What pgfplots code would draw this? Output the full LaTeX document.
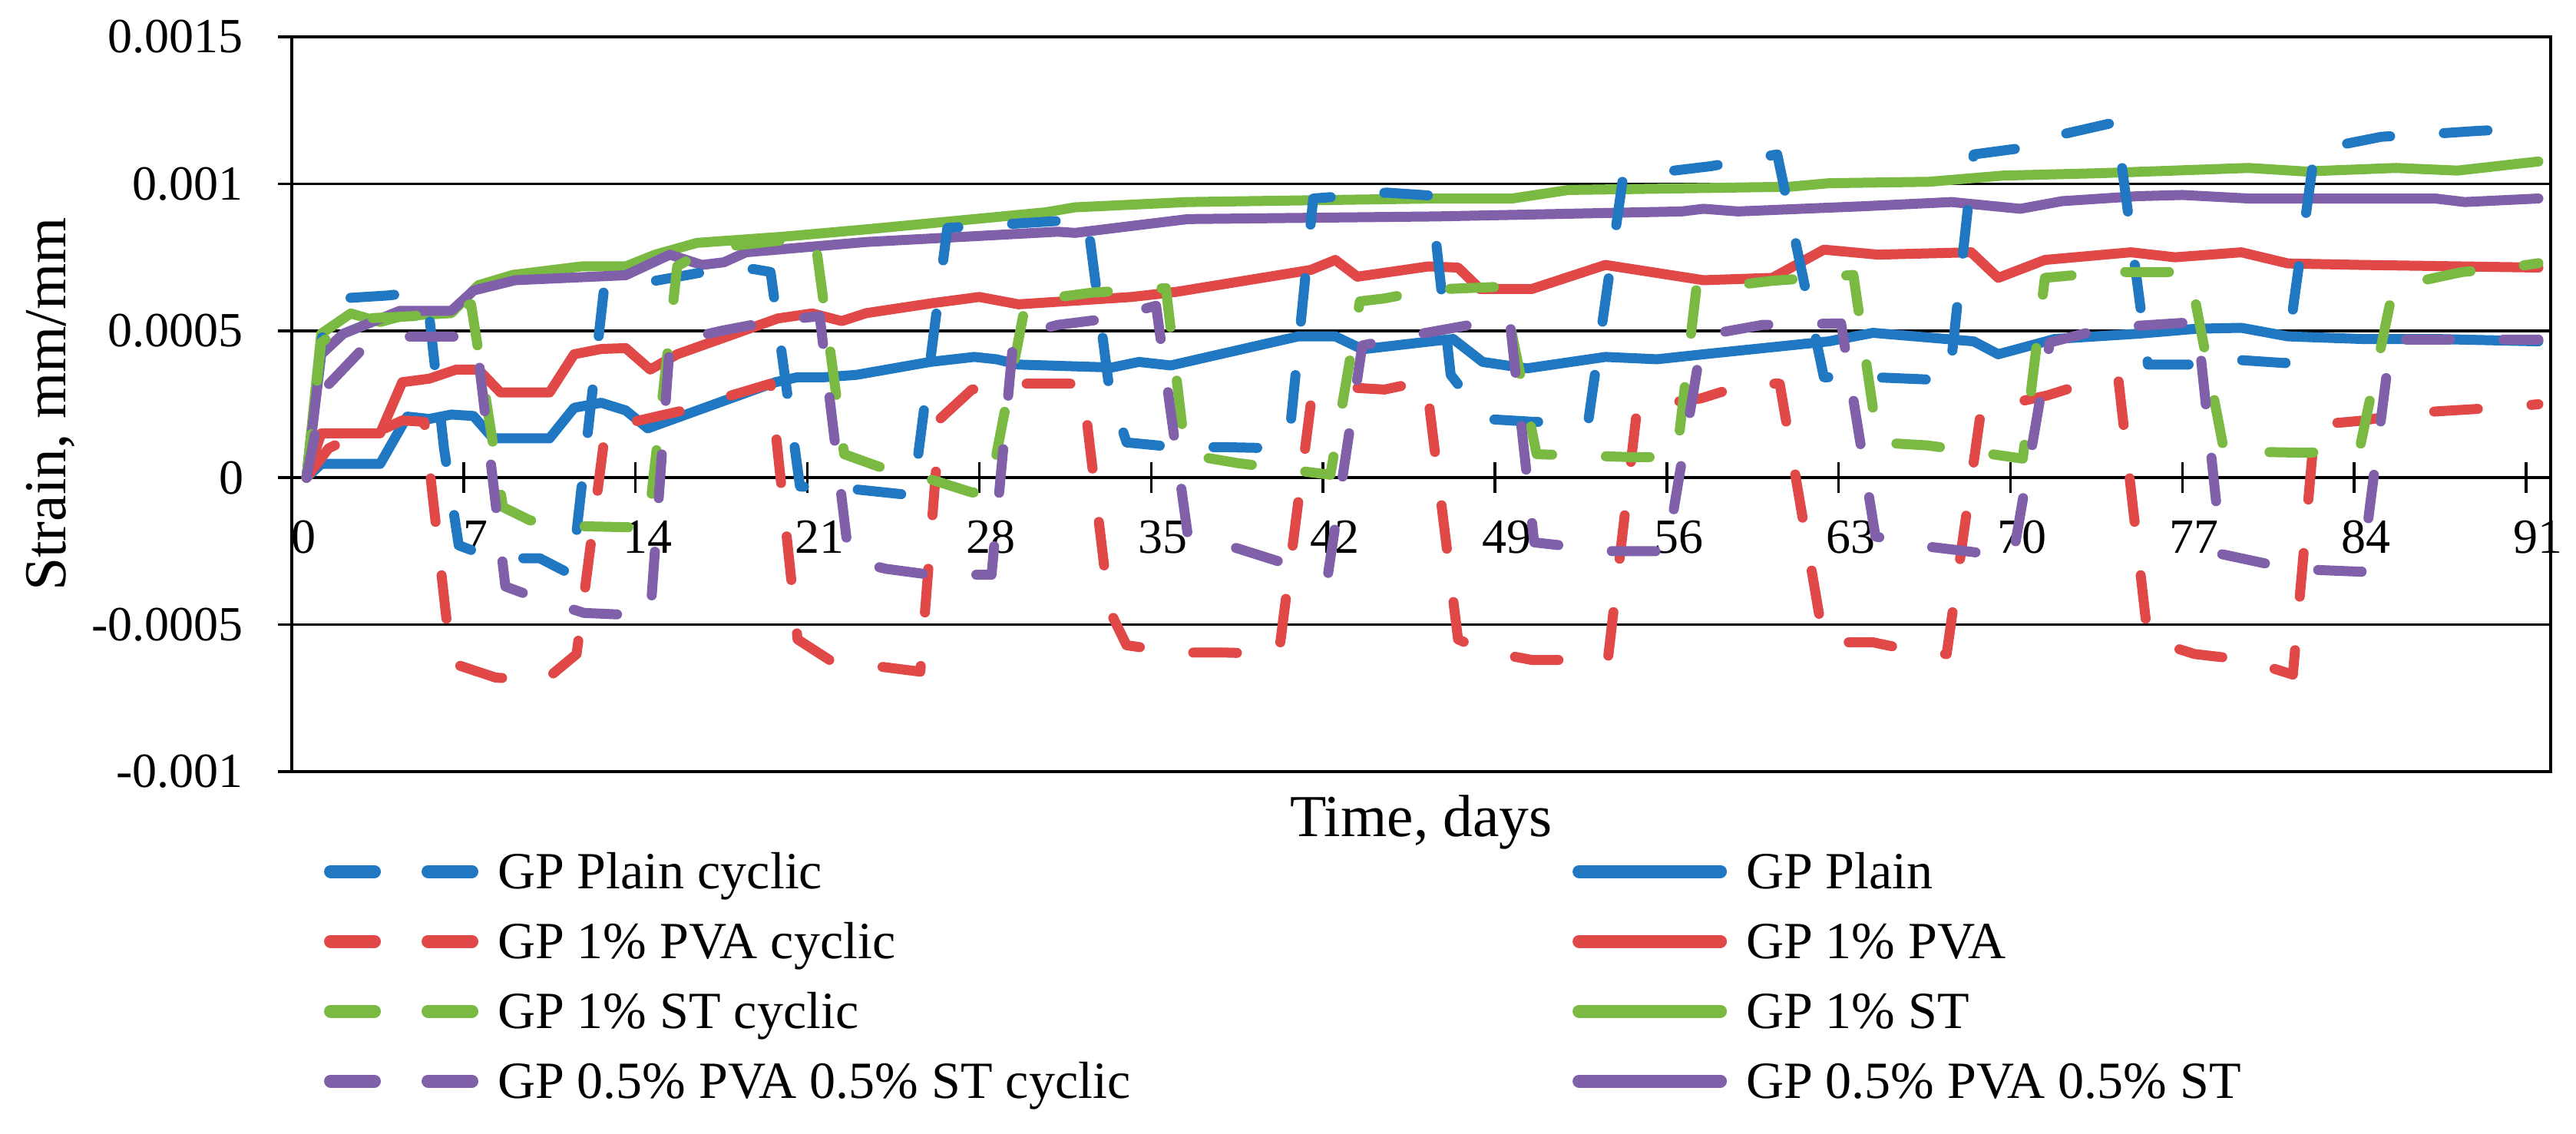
\documentclass[border=0pt]{standalone}
\usepackage{fontspec}
\setmainfont{Liberation Serif}
\usepackage{pgfplots}
\pgfplotsset{compat=1.18}
\definecolor{cblue}{RGB}{32,120,195}
\definecolor{cred}{RGB}{225,72,72}
\definecolor{cgreen}{RGB}{122,185,66}
\definecolor{cpurple}{RGB}{128,96,168}
\pgfplotsset{
  common/.style={
    scale only axis, width=588.4pt, height=191.4pt,
    at={(76pt,94.2pt)}, anchor=south west,
    xmin=0, xmax=92, ymin=-0.001, ymax=0.0015,
    enlargelimits=false, scaled ticks=false,
    /pgf/number format/assume math mode=true,
    legend cell align=left,
    legend style={draw=none, fill=none, inner sep=0pt, outer sep=0pt, row sep=9.2pt,
      font=\fontsize{13.6}{16}\selectfont,
      nodes={inner sep=0pt, text height=9pt, text depth=0pt},
      /tikz/every odd column/.style={column sep=5pt}},
    legend image code/.code={\draw[##1, line width=3.4pt] (0pt,0pt) -- (36.8pt,0pt);},
  },
  sol/.style={line width=2.6pt, line cap=round, line join=round},
  cyc/.style={line width=2.6pt, line cap=round, line join=round, dash pattern=on 11.4pt off 14pt},
}
\begin{document}
\begin{tikzpicture}
\path[use as bounding box] (0,0) rectangle (671pt,295.2pt);
% ---------- axis A: frame, y axis, grid, continuous series ----------
\begin{axis}[common,
  xtick=\empty,
  ytick={-0.001,-0.0005,0,0.0005,0.001,0.0015},
  yticklabels={-0.001,-0.0005,0,0.0005,0.001,0.0015},
  ytick pos=left, tick align=outside, major tick length=3.6pt,
  ymajorgrids, major grid style={black, line width=0.7pt},
  axis line style={black, line width=0.7pt},
  tick style={black, line width=0.7pt},
  yticklabel style={anchor=east, inner sep=0pt, font=\fontsize{12.8}{14}\selectfont},
  yticklabel shift=8.8pt,
  ylabel={Strain, mm/mm}, xlabel={Time, days},
  every axis y label/.style={at={([xshift=-58.8pt]axis description cs:0,0.5)}, rotate=90, anchor=base, inner sep=0pt, font=\fontsize{15.5}{18}\selectfont},
  every axis x label/.style={at={([yshift=-16.8pt]axis description cs:0.5,0)}, anchor=base, inner sep=0pt, font=\fontsize{15.5}{18}\selectfont},
  legend style={at={(0.5670,-0.1123)}, anchor=north west},
]
\addplot[sol, cblue] coordinates {(0.6,0)(1.2,0.47e-4)(3.6,0.47e-4)(4.7,2.08e-4)(5.6,2.0e-4)(6.5,2.15e-4)(7.4,2.1e-4)(8.2,1.34e-4)(10.5,1.34e-4)(11.5,2.38e-4)(12.6,2.55e-4)(13.6,2.29e-4)(14.5,1.68e-4)(19.7,3.25e-4)(20.6,3.42e-4)(21.7,3.42e-4)(23,3.5e-4)(26,3.94e-4)(27.8,4.11e-4)(28.7,4.03e-4)(29.6,3.85e-4)(33.4,3.75e-4)(34.5,3.94e-4)(35.8,3.82e-4)(41,4.81e-4)(42.5,4.81e-4)(43.6,4.37e-4)(46.5,4.65e-4)(47.3,4.72e-4)(48.5,3.94e-4)(50.3,3.72e-4)(53.5,4.11e-4)(55.6,4.03e-4)(57.5,4.2e-4)(62.6,4.64e-4)(64.4,4.93e-4)(68.5,4.64e-4)(69.5,4.2e-4)(71.8,4.72e-4)(75.2,4.9e-4)(77.6,5.07e-4)(79.4,5.1e-4)(81.3,4.81e-4)(84.3,4.72e-4)(87.3,4.72e-4)(91.5,4.64e-4)};
\addlegendentry{GP Plain}
\addplot[sol, cred] coordinates {(0.6,0)(1.2,1.51e-4)(3.6,1.51e-4)(4.5,3.25e-4)(5.6,3.37e-4)(6.7,3.68e-4)(7.6,3.68e-4)(8.5,2.9e-4)(10.5,2.9e-4)(11.5,4.2e-4)(12.6,4.38e-4)(13.6,4.41e-4)(14.6,3.68e-4)(15.7,4.2e-4)(19.8,5.42e-4)(21.2,5.59e-4)(22.4,5.33e-4)(23.4,5.6e-4)(26.1,5.94e-4)(28,6.15e-4)(29.6,5.9e-4)(34.2,6.15e-4)(36,6.32e-4)(41.5,7.07e-4)(42.5,7.41e-4)(43.4,6.84e-4)(46.3,7.19e-4)(47.5,7.15e-4)(48.4,6.42e-4)(50.5,6.42e-4)(53.5,7.24e-4)(57.5,6.72e-4)(60.3,6.8e-4)(62.4,7.76e-4)(64.6,7.59e-4)(68.4,7.67e-4)(69.5,6.8e-4)(71.4,7.41e-4)(74.9,7.67e-4)(76.7,7.5e-4)(79.4,7.67e-4)(81.3,7.29e-4)(84.3,7.24e-4)(91.5,7.15e-4)};
\addlegendentry{GP 1\% PVA}
\addplot[sol, cgreen] coordinates {(0.6,0)(1.2,4.9e-4)(2.4,5.59e-4)(3.6,5.3e-4)(4.5,5.5e-4)(6.5,5.6e-4)(7.6,6.55e-4)(9,6.9e-4)(11.8,7.19e-4)(13.6,7.19e-4)(14.8,7.59e-4)(16.5,7.99e-4)(20,8.2e-4)(23.4,8.45e-4)(30.7,9.03e-4)(31.9,9.2e-4)(36.5,9.38e-4)(46.5,9.5e-4)(49.7,9.5e-4)(52,9.79e-4)(61,9.9e-4)(62.6,10.02e-4)(66.7,10.07e-4)(69.7,10.28e-4)(73.6,10.36e-4)(79.7,10.54e-4)(82,10.42e-4)(85.7,10.54e-4)(88.2,10.45e-4)(91.5,10.76e-4)};
\addlegendentry{GP 1\% ST}
\addplot[sol, cpurple] coordinates {(0.6,0)(1.2,4.2e-4)(2.1,4.9e-4)(4.4,5.68e-4)(6.5,5.68e-4)(7.4,6.37e-4)(9.1,6.72e-4)(13.6,6.89e-4)(15.4,7.59e-4)(16.7,7.24e-4)(17.6,7.33e-4)(18.5,7.67e-4)(23.4,8.02e-4)(31.2,8.37e-4)(31.9,8.33e-4)(36.5,8.8e-4)(46.6,8.89e-4)(56.6,9.06e-4)(57.5,9.15e-4)(58.9,9.06e-4)(64.1,9.24e-4)(67.6,9.38e-4)(70.4,9.15e-4)(72.1,9.41e-4)(75.2,9.58e-4)(77,9.62e-4)(79.7,9.5e-4)(87.3,9.5e-4)(88.5,9.38e-4)(91.5,9.5e-4)};
\addlegendentry{GP 0.5\% PVA 0.5\% ST}
\end{axis}
% ---------- axis B: x axis at y=0, cyclic series ----------
\begin{axis}[common,
  axis x line=middle, axis y line=none,
  x axis line style={draw=none},
  xtick={0,7,14,21,28,35,42,49,56,63,70,77,84,91},
  xticklabels={0,7,14,21,28,35,42,49,56,63,70,77,84,91},
  tick align=center, major tick length=8pt, tick style={black, line width=0.7pt},
  hide obscured x ticks=false,
  xticklabel style={anchor=north, inner sep=0pt, xshift=3.1pt, font=\fontsize{12.8}{14}\selectfont},
  xticklabel shift=7.0pt,
  legend style={at={(0.0143,-0.1123)}, anchor=north west},
]
\addplot[cyc, cblue] coordinates {(0.6,0)(1.3,5.2e-4)(2,6.1e-4)(3.9,6.2e-4)(5,6.3e-4)(5.6,5.5e-4)(6.2,1.0e-4)(6.8,-2.3e-4)(8.2,-2.74e-4)(10.1,-2.74e-4)(11.4,-3.3e-4)(12.7,6.3e-4)(14.8,6.7e-4)(16.8,7.0e-4)(18.8,7.1e-4)(19.5,7.0e-4)(20.7,-0.3e-4)(23,-0.4e-4)(25.3,-0.6e-4)(26.7,8.5e-4)(32.4,8.8e-4)(33.3,3.0e-4)(34,1.2e-4)(36,1.04e-4)(38,1.04e-4)(40.2,1.0e-4)(40.7,2.0e-4)(41.6,9.5e-4)(44.6,9.7e-4)(46.4,9.6e-4)(47.2,3.5e-4)(48.6,2.0e-4)(50.6,1.9e-4)(52.8,1.9e-4)(54.2,10.1e-4)(55.8,10.4e-4)(57.8,10.6e-4)(60.5,11.0e-4)(62.4,3.42e-4)(64.4,3.42e-4)(66.4,3.35e-4)(67.5,3.3e-4)(68.5,11.0e-4)(70.3,11.2e-4)(72.2,11.7e-4)(74.3,12.1e-4)(75.6,3.85e-4)(77.5,3.85e-4)(79.4,4.0e-4)(81.2,3.9e-4)(82.4,11.2e-4)(83.3,11.3e-4)(85.1,11.6e-4)(87.2,11.7e-4)(89,11.8e-4)(91.5,11.9e-4)};
\addlegendentry{GP Plain cyclic}
\addplot[cyc, cred] coordinates {(0.6,0)(1.5,1.0e-4)(2.5,1.4e-4)(3.6,1.6e-4)(4.5,1.95e-4)(5.4,1.9e-4)(6.5,-6.3e-4)(8.3,-6.8e-4)(10.3,-6.9e-4)(11.6,-6.0e-4)(12.8,1.8e-4)(13.9,1.9e-4)(16,2.3e-4)(17.9,2.8e-4)(19.5,3.2e-4)(20.6,-5.5e-4)(21.9,-6.2e-4)(23.7,-6.4e-4)(25.6,-6.6e-4)(26.4,2.0e-4)(27.7,3.0e-4)(29.7,3.2e-4)(32.2,3.2e-4)(33.3,-4.5e-4)(34,-5.7e-4)(36.1,-5.95e-4)(38.1,-5.95e-4)(40.2,-6.0e-4)(41.5,2.5e-4)(42.5,3.1e-4)(44.5,3.0e-4)(46.2,3.3e-4)(47.5,-5.5e-4)(48.6,-5.9e-4)(50.5,-6.2e-4)(53.6,-6.2e-4)(54.8,2.4e-4)(57.4,2.7e-4)(59.3,3.2e-4)(60.6,3.2e-4)(62.4,-5.6e-4)(64.4,-5.6e-4)(66.4,-5.95e-4)(67.4,-6.0e-4)(68.8,2.3e-4)(71.5,2.8e-4)(73.4,3.3e-4)(74.4,3.3e-4)(75.6,-5.5e-4)(77.5,-6.0e-4)(79.6,-6.2e-4)(81.5,-6.7e-4)(82.4,1.8e-4)(84.3,1.94e-4)(86.3,2.2e-4)(88.2,2.3e-4)(90.2,2.4e-4)(91.5,2.5e-4)};
\addlegendentry{GP 1\% PVA cyclic}
\addplot[cyc, cgreen] coordinates {(0.6,0)(1.2,4.6e-4)(2.5,5.4e-4)(5,5.5e-4)(7.3,5.9e-4)(8.6,-1.0e-4)(9.7,-1.45e-4)(11.8,-1.65e-4)(14.5,-1.7e-4)(15.7,7.2e-4)(17,7.8e-4)(21.3,8.2e-4)(22.5,0.8e-4)(23.9,0.38e-4)(25.8,0)(27.7,-0.5e-4)(28.4,-0.5e-4)(29.9,6.0e-4)(32.6,6.3e-4)(35.6,6.45e-4)(36.4,0.8e-4)(38.5,0.5e-4)(40.4,0.3e-4)(42.3,0.1e-4)(43.5,6.0e-4)(44.5,6.1e-4)(46.4,6.4e-4)(49.3,6.5e-4)(50.7,0.8e-4)(54.6,0.7e-4)(56.4,0.7e-4)(57.2,6.4e-4)(60.3,6.7e-4)(63.6,6.9e-4)(64.6,1.2e-4)(66.6,1.1e-4)(68.4,0.9e-4)(70.5,0.65e-4)(71.4,6.8e-4)(74,7.0e-4)(77.3,7.0e-4)(78.7,0.9e-4)(82,0.85e-4)(84.2,0.9e-4)(85.6,6.5e-4)(88.4,7.0e-4)(90.3,7.15e-4)(91.5,7.3e-4)};
\addlegendentry{GP 1\% ST cyclic}
\addplot[cyc, cpurple] coordinates {(0.6,0)(1.3,3.0e-4)(2.9,4.4e-4)(4.7,4.8e-4)(7.5,4.8e-4)(8.7,-3.7e-4)(10,-4.1e-4)(11.9,-4.6e-4)(14.6,-4.7e-4)(15.4,4.6e-4)(17.5,5.0e-4)(19.4,5.3e-4)(21.5,5.5e-4)(22.7,-2.8e-4)(24.2,-3.1e-4)(26,-3.3e-4)(28.5,-3.3e-4)(29.4,4.8e-4)(31.2,5.2e-4)(33.1,5.4e-4)(35.2,5.85e-4)(36.5,-2.0e-4)(38.5,-2.4e-4)(40.4,-2.9e-4)(42.2,-3.3e-4)(43.6,4.5e-4)(46,4.9e-4)(48,5.2e-4)(49.6,5.4e-4)(50.6,-2.2e-4)(53.8,-2.5e-4)(56,-2.5e-4)(57.4,4.5e-4)(57.9,4.9e-4)(59.9,5.2e-4)(63.1,5.25e-4)(64.5,-2.0e-4)(66.2,-2.3e-4)(68.2,-2.5e-4)(70.1,-2.7e-4)(71.6,4.6e-4)(73.9,5.1e-4)(77.6,5.3e-4)(78.6,-2.6e-4)(81.4,-3.1e-4)(84.3,-3.2e-4)(85.5,4.7e-4)(89.3,4.7e-4)(91.5,4.7e-4)};
\addlegendentry{GP 0.5\% PVA 0.5\% ST cyclic}
\end{axis}
\end{tikzpicture}
\end{document}
